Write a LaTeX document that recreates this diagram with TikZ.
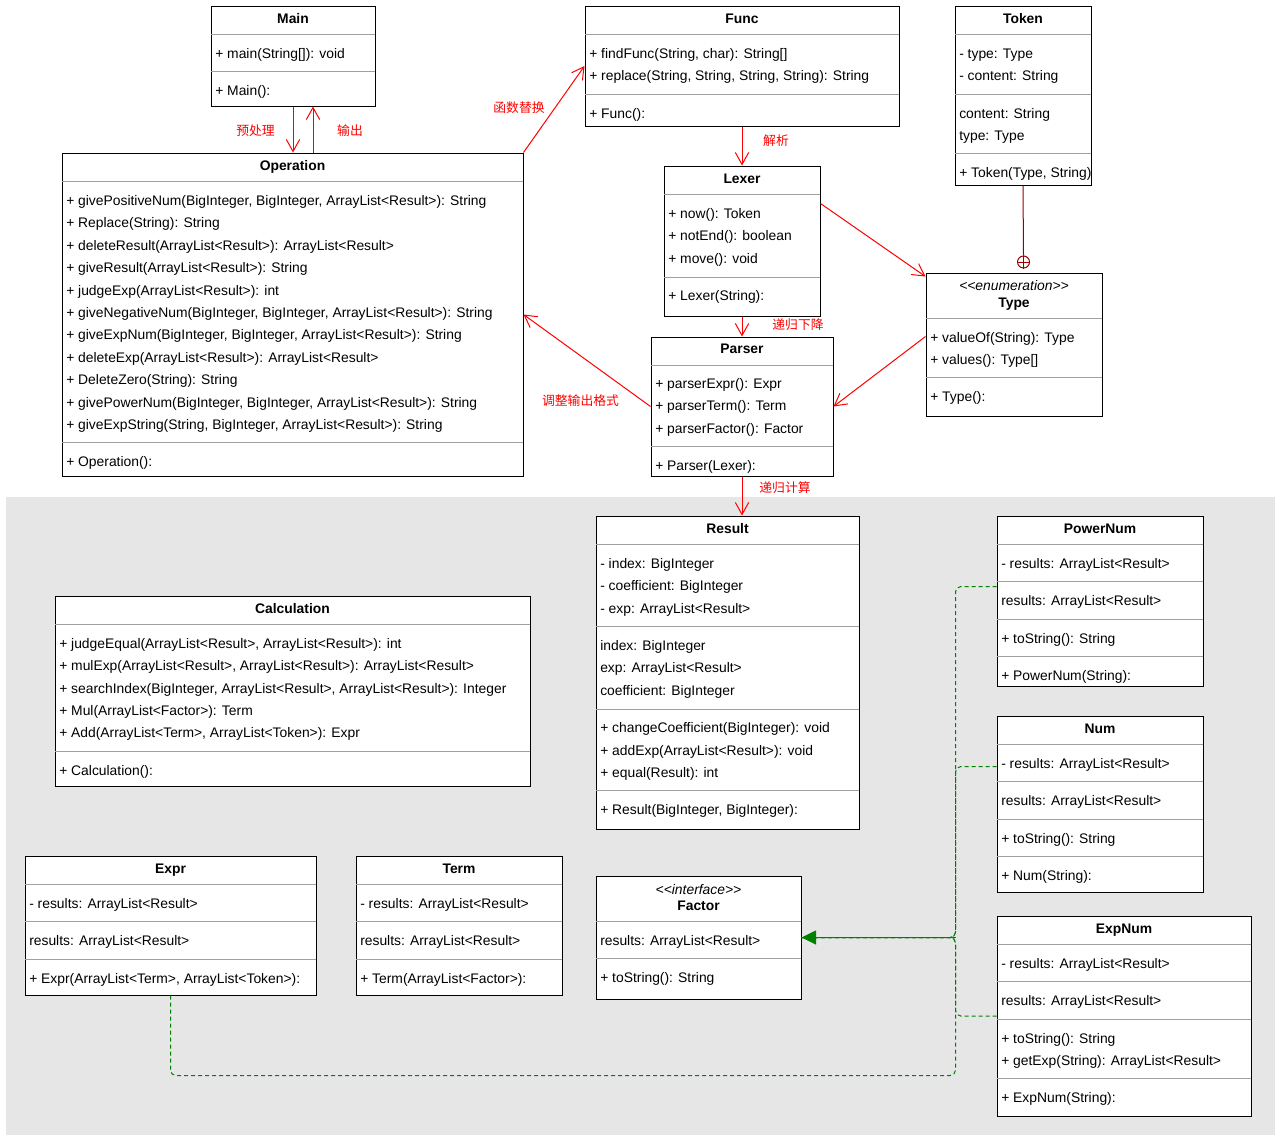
\documentclass[tikz,border=0pt]{standalone}
\usepackage{fontspec}
\setmainfont{Liberation Sans}
\newfontfamily\cjk{Noto Sans CJK SC}
\usepackage{tikz}
\usetikzlibrary{arrows.meta}
\usetikzlibrary{calc}
\usetikzlibrary{fit}

\definecolor{bggray}{HTML}{E6E6E6}
\definecolor{sepgray}{HTML}{A0A0A0}
\definecolor{umlgreen}{HTML}{008000}
\definecolor{nestred}{HTML}{990000}

\begin{document}
\begin{tikzpicture}[x=0.75pt,y=-0.75pt,
    cls/.style={draw=black,fill=white,line width=0.75pt,inner sep=0pt},
    sep/.style={draw=sepgray,line width=0.75pt},
    head/.style={inner sep=0pt,text height=9pt,text depth=1.1pt,font=\bfseries\fontsize{10.4}{12}\selectfont},
    stereo/.style={inner sep=0pt,text height=9pt,text depth=1.1pt,font=\itshape\fontsize{10.4}{12}\selectfont},
    row/.style={anchor=west,inner sep=0pt,text height=9pt,text depth=1.1pt,font=\fontsize{10.4}{12}\selectfont},
    note/.style={inner sep=0pt,text=red,font=\cjk\fontsize{9.6}{11}\selectfont}]
\fill[white] (0,0) rectangle (1281,1142);
\useasboundingbox (0,0) rectangle (1281,1142);
\fill[bggray] (6,497) rectangle (1275,1135);

% Main
\node[cls,fit={(211,6) (375,106)}] (main) {};
\node[head] at (293,18) {Main};
\draw[sep] (211,34) -- (375,34) (211,71) -- (375,71);
\node[row] at (215,53) {+ main(String[]): void};
\node[row] at (215,90) {+ Main():};

% Operation
\node[cls,fit={(62,153) (523,476)}] (operation) {};
\node[head] at (292.5,165) {Operation};
\draw[sep] (62,181) -- (523,181) (62,442) -- (523,442);
\foreach \y/\t in {200/{+ givePositiveNum(BigInteger, BigInteger, ArrayList<Result>): String},
                   222/{+ Replace(String): String},
                   245/{+ deleteResult(ArrayList<Result>): ArrayList<Result>},
                   267/{+ giveResult(ArrayList<Result>): String},
                   290/{+ judgeExp(ArrayList<Result>): int},
                   312/{+ giveNegativeNum(BigInteger, BigInteger, ArrayList<Result>): String},
                   334/{+ giveExpNum(BigInteger, BigInteger, ArrayList<Result>): String},
                   357/{+ deleteExp(ArrayList<Result>): ArrayList<Result>},
                   379/{+ DeleteZero(String): String},
                   402/{+ givePowerNum(BigInteger, BigInteger, ArrayList<Result>): String},
                   424/{+ giveExpString(String, BigInteger, ArrayList<Result>): String},
                   461/{+ Operation():}}
    \node[row] at (66,\y) {\t};

% Func
\node[cls,fit={(585,6) (899,126)}] (func) {};
\node[head] at (742,18) {Func};
\draw[sep] (585,34) -- (899,34) (585,94) -- (899,94);
\node[row] at (589,53) {+ findFunc(String, char): String[]};
\node[row] at (589,75) {+ replace(String, String, String, String): String};
\node[row] at (589,113) {+ Func():};

% Token
\node[cls,fit={(955,6) (1091,185)}] (token) {};
\node[head] at (1023,18) {Token};
\draw[sep] (955,34) -- (1091,34) (955,94) -- (1091,94) (955,153) -- (1091,153);
\foreach \y/\t in {53/{- type: Type}, 75/{- content: String}, 113/{content: String},
                   135/{type: Type}, 172/{+ Token(Type, String)}}
    \node[row] at (959,\y) {\t};

% Lexer
\node[cls,fit={(664,166) (820,316)}] (lexer) {};
\node[head] at (742,178) {Lexer};
\draw[sep] (664,194) -- (820,194) (664,277) -- (820,277);
\foreach \y/\t in {213/{+ now(): Token}, 235/{+ notEnd(): boolean},
                   258/{+ move(): void}, 295/{+ Lexer(String):}}
    \node[row] at (668,\y) {\t};

% Parser
\node[cls,fit={(651,337) (833,476)}] (parser) {};
\node[head] at (742,348) {Parser};
\draw[sep] (651,365) -- (833,365) (651,446) -- (833,446);
\foreach \y/\t in {383/{+ parserExpr(): Expr}, 405/{+ parserTerm(): Term},
                   428/{+ parserFactor(): Factor}, 465/{+ Parser(Lexer):}}
    \node[row] at (655,\y) {\t};

% Type
\node[cls,fit={(926,273) (1102,416)}] (type) {};
\node[stereo] at (1014,285) {<{}<enumeration>{}>};
\node[head] at (1014,302) {Type};
\draw[sep] (926,318) -- (1102,318) (926,377) -- (1102,377);
\foreach \y/\t in {337/{+ valueOf(String): Type}, 359/{+ values(): Type[]}, 396/{+ Type():}}
    \node[row] at (930,\y) {\t};

% Result
\node[cls,fit={(596,516) (859,829)}] (result) {};
\node[head] at (727.5,528) {Result};
\draw[sep] (596,544) -- (859,544) (596,626) -- (859,626)
           (596,709) -- (859,709) (596,790) -- (859,790);
\foreach \y/\t in {563/{- index: BigInteger}, 585/{- coefficient: BigInteger},
                   608/{- exp: ArrayList<Result>}, 645/{index: BigInteger},
                   667/{exp: ArrayList<Result>}, 690/{coefficient: BigInteger},
                   727/{+ changeCoefficient(BigInteger): void},
                   750/{+ addExp(ArrayList<Result>): void},
                   772/{+ equal(Result): int}, 809/{+ Result(BigInteger, BigInteger):}}
    \node[row] at (600,\y) {\t};

% Calculation
\node[cls,fit={(55,596) (530,786)}] (calculation) {};
\node[head] at (292.5,608) {Calculation};
\draw[sep] (55,624) -- (530,624) (55,751) -- (530,751);
\foreach \y/\t in {643/{+ judgeEqual(ArrayList<Result>, ArrayList<Result>): int},
                   665/{+ mulExp(ArrayList<Result>, ArrayList<Result>): ArrayList<Result>},
                   688/{+ searchIndex(BigInteger, ArrayList<Result>, ArrayList<Result>): Integer},
                   710/{+ Mul(ArrayList<Factor>): Term},
                   732/{+ Add(ArrayList<Term>, ArrayList<Token>): Expr},
                   770/{+ Calculation():}}
    \node[row] at (59,\y) {\t};

% PowerNum
\node[cls,fit={(997,516) (1203,686)}] (powernum) {};
\node[head] at (1100,528) {PowerNum};
\draw[sep] (997,544) -- (1203,544) (997,581) -- (1203,581)
           (997,619) -- (1203,619) (997,656) -- (1203,656);
\foreach \y/\t in {563/{- results: ArrayList<Result>}, 600/{results: ArrayList<Result>},
                   638/{+ toString(): String}, 675/{+ PowerNum(String):}}
    \node[row] at (1001,\y) {\t};

% Num
\node[cls,fit={(997,716) (1203,892)}] (num) {};
\node[head] at (1100,728) {Num};
\draw[sep] (997,744) -- (1203,744) (997,781) -- (1203,781)
           (997,819) -- (1203,819) (997,856) -- (1203,856);
\foreach \y/\t in {763/{- results: ArrayList<Result>}, 800/{results: ArrayList<Result>},
                   838/{+ toString(): String}, 875/{+ Num(String):}}
    \node[row] at (1001,\y) {\t};

% ExpNum
\node[cls,fit={(997,916) (1251,1116)}] (expnum) {};
\node[head] at (1124,928) {ExpNum};
\draw[sep] (997,944) -- (1251,944) (997,981) -- (1251,981)
           (997,1019) -- (1251,1019) (997,1078) -- (1251,1078);
\foreach \y/\t in {963/{- results: ArrayList<Result>}, 1000/{results: ArrayList<Result>},
                   1038/{+ toString(): String}, 1060/{+ getExp(String): ArrayList<Result>},
                   1097/{+ ExpNum(String):}}
    \node[row] at (1001,\y) {\t};

% Expr
\node[cls,fit={(25,856) (316,995)}] (expr) {};
\node[head] at (170.5,868) {Expr};
\draw[sep] (25,884) -- (316,884) (25,921) -- (316,921) (25,959) -- (316,959);
\foreach \y/\t in {903/{- results: ArrayList<Result>}, 940/{results: ArrayList<Result>},
                   978/{+ Expr(ArrayList<Term>, ArrayList<Token>):}}
    \node[row] at (29,\y) {\t};

% Term
\node[cls,fit={(356,856) (562,995)}] (term) {};
\node[head] at (459,868) {Term};
\draw[sep] (356,884) -- (562,884) (356,921) -- (562,921) (356,959) -- (562,959);
\foreach \y/\t in {903/{- results: ArrayList<Result>}, 940/{results: ArrayList<Result>},
                   978/{+ Term(ArrayList<Factor>):}}
    \node[row] at (360,\y) {\t};

% Factor
\node[cls,fit={(596,876) (801,999)}] (factor) {};
\node[stereo] at (698.5,889) {<{}<interface>{}>};
\node[head] at (698.5,905) {Factor};
\draw[sep] (596,921) -- (801,921) (596,958) -- (801,958);
\node[row] at (600,940) {results: ArrayList<Result>};
\node[row] at (600,977) {+ toString(): String};

% nesting mark on Type
\node[draw=nestred,circle,minimum size=9pt,inner sep=0pt,line width=0.75pt] (nest) at (1023.5,262) {};
\draw[nestred,line width=0.75pt] (nest.north) -- (nest.south) (nest.west) -- (nest.east);

\coordinate (join) at ($(factor.east)+(154,0)$);

\begin{scope}[>={Straight Barb[length=9pt,width=10pt]},
              red_edge/.style={draw=red,line width=0.75pt},
              nest_edge/.style={draw=nestred,line width=0.75pt},
              green_edge/.style={draw=umlgreen,line width=0.75pt,dash pattern=on 3pt off 2.25pt,rounded corners=4pt},
              green_head/.style={draw=umlgreen,fill=umlgreen,line width=1.2pt}]
    \path [->] (main.south) edge [red_edge] (main.south |- operation.north);
    \path [->] ($(operation.north)+(20.5,0)$) edge [red_edge] ($(main.south)+(20,0)$);
    \path [->] (operation.north east) edge [red_edge] (func.west);
    \path [->] (func.south) edge [red_edge] (lexer.north);
    \path [->] (lexer.south) edge [red_edge] (parser.north);
    \path [->] ($(lexer.north east)+(0,38)$) edge [red_edge] ($(type.north west)+(0,4)$);
    \path [->] ($(type.north west)+(0,64)$) edge [red_edge] (parser.east);
    \path [->] (parser.west) edge [red_edge] (operation.east);
    \path [->] (parser.south) edge [red_edge] (parser.south |- result.north);
    \path (token.south) edge [nest_edge] (nest.north);
    % realizations of Factor
    \draw [green_edge] ($(powernum.north west)+(0,71)$) -| (join) -- (factor.east);
    \draw [green_edge] ($(num.north west)+(0,51)$) -| (join) -- (factor.east);
    \draw [green_edge] (expnum.west) -| (join) -- (factor.east);
    \draw [green_edge] (expr.south) |- ($(join)+(0,138)$) -- (join) -- (factor.east);
    \draw [green_head,-{Triangle[length=11pt,width=10.5pt]}] (join) -- (factor.east);
\end{scope}

\node[note] at (255.5,131) {预处理};
\node[note] at (350,131) {输出};
\node[note] at (519,108) {函数替换};
\node[note] at (776,141) {解析};
\node[note] at (798,325) {递归下降};
\node[note] at (580.5,401) {调整输出格式};
\node[note] at (785,488) {递归计算};
\end{tikzpicture}
\end{document}
